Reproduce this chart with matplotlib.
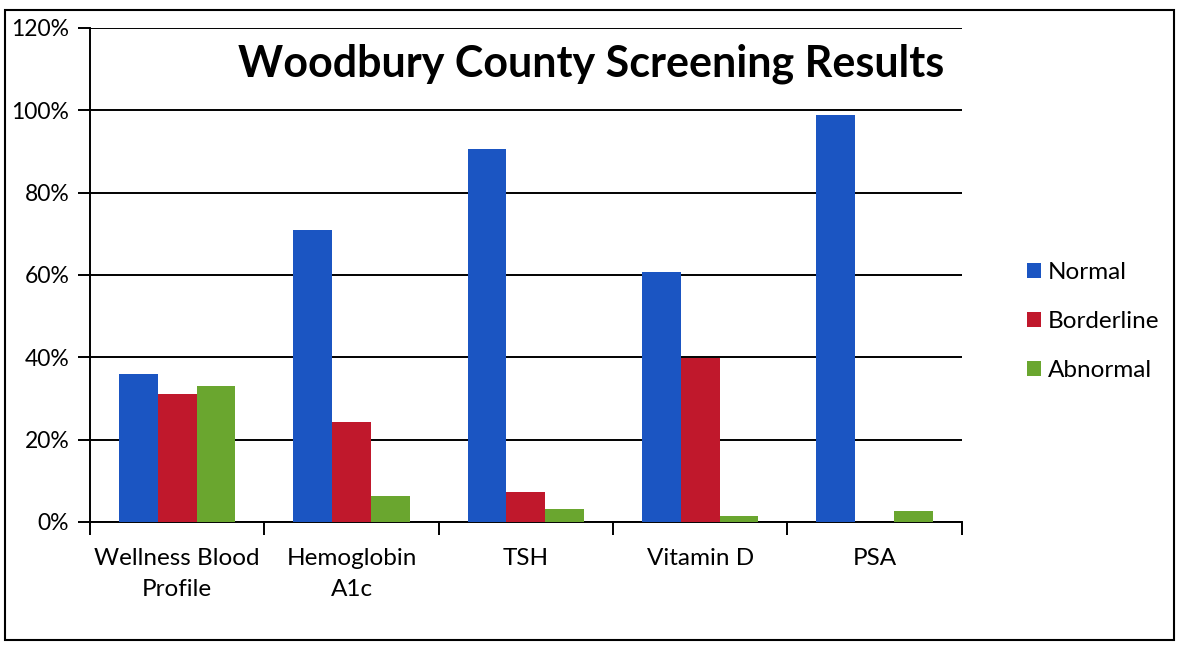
import matplotlib.pyplot as plt
import matplotlib.patches as mpatches
import numpy as np

plt.rcParams['font.family'] = ['Lato', 'DejaVu Sans']

categories = ['Wellness Blood\nProfile', 'Hemoglobin\nA1c', 'TSH', 'Vitamin D', 'PSA']
series_names = ['Normal', 'Borderline', 'Abnormal']
normal = [36, 71, 90.5, 60.7, 98.8]
borderline = [31, 24.3, 7.3, 39.8, 0]
abnormal = [33, 6.2, 3.2, 1.5, 2.7]
colors = ['#1b55c2', '#c0182c', '#6aa62f']

fig = plt.figure(figsize=(11.78, 6.46), dpi=100)
ax = fig.add_axes([0.0764, 0.192, 0.740, 0.765])

x = np.arange(len(categories))
w = 1 / 4.5
for i, (vals, name) in enumerate(zip([normal, borderline, abnormal], series_names)):
    ax.bar(x + (i - 1) * w, vals, width=w, color=colors[i], label=name, zorder=3)

ax.set_xlim(-0.5, len(categories) - 0.5)
ax.set_ylim(0, 120)
ax.set_yticks(np.arange(0, 121, 20))
ax.set_yticklabels([f'{v}%' for v in range(0, 121, 20)], fontsize=16.5)
ax.yaxis.grid(True, color='black', linewidth=1.4, zorder=0)
ax.tick_params(axis='y', length=9, width=1.4, pad=6)

ax.set_xticks(x)
ax.set_xticklabels(categories, fontsize=17.5, linespacing=1.55)
ax.set_xticks(np.arange(-0.5, len(categories)), minor=True)
ax.tick_params(axis='x', which='major', length=0, pad=19)
ax.tick_params(axis='x', which='minor', length=9, width=1.4)

for s in ['top', 'right']:
    ax.spines[s].set_visible(False)
ax.spines['left'].set_linewidth(1.4)
ax.spines['bottom'].set_linewidth(1.4)

ax.set_title('Woodbury County Screening Results', fontsize=31, fontweight='bold',
             y=0.885, x=0.575)

ax.legend(loc='center left', bbox_to_anchor=(1.05, 0.405), frameon=False, fontsize=17.5,
          handlelength=0.55, handleheight=0.55, handletextpad=0.3, labelspacing=1.15)

fig.patches.append(mpatches.Rectangle((0.004, 0.01), 0.993, 0.975, transform=fig.transFigure,
                                      fill=False, edgecolor='black', linewidth=1.5))

fig.savefig('out.png', dpi=100)
